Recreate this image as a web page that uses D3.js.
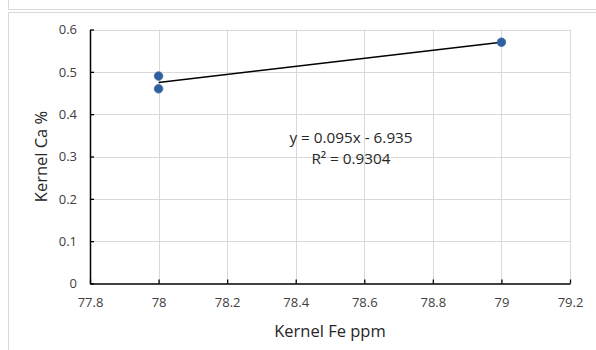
<!DOCTYPE html>
<html>
<head>
<meta charset="utf-8">
<script src="https://cdn.jsdelivr.net/npm/d3@7"></script>
<style>
  html, body { margin: 0; padding: 0; background: #fff; }
  svg { display: block; font-family: "Open Sans", "Noto Sans", sans-serif; }
</style>
</head>
<body>
<svg id="chart" width="596" height="350"></svg>
<script>
// ---- data ----
const feValues = [78, 78, 79];          // Kernel Fe ppm (x)
const caValues = [0.49, 0.46, 0.57];    // Kernel Ca % (y)
const xTicks = [77.8, 78, 78.2, 78.4, 78.6, 78.8, 79, 79.2];
const yTicks = [0, 0.1, 0.2, 0.3, 0.4, 0.5, 0.6];
const equationLines = ["y = 0.095x - 6.935", "R\u00B2 = 0.9304"];
const xTitle = "Kernel Fe ppm";
const yTitle = "Kernel Ca %";

const points = feValues.map((x, i) => ({ x, y: caValues[i] }));

const svg = d3.select("#chart");
const plot = { left: 90, right: 570, top: 29.5, bottom: 283.5 };

// outer frames (chart border)
svg.append("path").attr("d", `M8.5,0 V9.5 H596`).attr("fill", "none").attr("stroke", "#d9d9d9");
svg.append("path").attr("d", `M596,12.5 H8.5 V350`).attr("fill", "none").attr("stroke", "#d9d9d9");

const x = d3.scaleLinear().domain([77.8, 79.2]).range([plot.left, plot.right]);
const y = d3.scaleLinear().domain([0, 0.6]).range([plot.bottom, plot.top]);

const fmt = d => String(+d.toFixed(1));

// gridlines
const grid = svg.append("g").attr("stroke", "#d9d9d9").attr("stroke-width", 1);
grid.selectAll("line.v").data(xTicks.slice(1)).join("line")
  .attr("x1", d => Math.round(x(d)) + 0.5).attr("x2", d => Math.round(x(d)) + 0.5)
  .attr("y1", plot.top).attr("y2", plot.bottom);
grid.selectAll("line.h").data(yTicks.slice(1)).join("line")
  .attr("y1", d => Math.round(y(d)) + 0.5).attr("y2", d => Math.round(y(d)) + 0.5)
  .attr("x1", plot.left).attr("x2", plot.right);

// axes
const xAxis = d3.axisBottom(x).tickValues(xTicks).tickFormat(fmt).tickSizeInner(-4).tickSizeOuter(0).tickPadding(13);
const yAxis = d3.axisLeft(y).tickValues(yTicks).tickFormat(fmt).tickSizeInner(-4).tickSizeOuter(0).tickPadding(13);

const gx = svg.append("g").attr("transform", `translate(0,${plot.bottom})`).call(xAxis);
const gy = svg.append("g").attr("transform", `translate(${plot.left},0)`).call(yAxis);
[gx, gy].forEach(g => {
  g.select(".domain").attr("stroke", "#000").attr("stroke-width", 1.5);
  g.selectAll(".tick line").attr("stroke", "#000").attr("stroke-width", 1.3);
  g.selectAll(".tick text").attr("fill", "#404040").attr("font-size", 13)
    .attr("font-family", "'Open Sans','Noto Sans',sans-serif");
});
gx.selectAll(".tick text").attr("dy", "0.71em").attr("y", 14);
gy.selectAll(".tick text").attr("x", -13);

// trendline (least squares on the data)
const mx = d3.mean(feValues), my = d3.mean(caValues);
const sxy = d3.sum(points, p => (p.x - mx) * (p.y - my));
const sxx = d3.sum(points, p => (p.x - mx) ** 2);
const slope = sxy / sxx, intercept = my - slope * mx;
const [x0, x1] = d3.extent(feValues);
svg.append("line")
  .attr("x1", x(x0)).attr("y1", y(slope * x0 + intercept))
  .attr("x2", x(x1)).attr("y2", y(slope * x1 + intercept))
  .attr("stroke", "#000").attr("stroke-width", 1.5);

// points
svg.append("g").selectAll("circle").data(points).join("circle")
  .attr("cx", d => x(d.x)).attr("cy", d => y(d.y)).attr("r", 4.3)
  .attr("fill", "#2f5f9e").attr("stroke", "#3d6cab").attr("stroke-width", 0.8);

// equation label
const eq = svg.append("text").attr("text-anchor", "middle").attr("fill", "#262626")
  .attr("font-size", 15.3);
eq.selectAll("tspan").data(equationLines).join("tspan")
  .attr("x", 351).attr("y", (d, i) => 143 + i * 21).text(d => d);

// axis titles
svg.append("text").attr("x", (plot.left + plot.right) / 2).attr("y", 337)
  .attr("text-anchor", "middle").attr("font-size", 16.5).attr("fill", "#262626").text(xTitle);
svg.append("text").attr("transform", `translate(47,${(plot.top + plot.bottom) / 2}) rotate(-90)`)
  .attr("text-anchor", "middle").attr("font-size", 16.5).attr("fill", "#262626").text(yTitle);
</script>
</body>
</html>
